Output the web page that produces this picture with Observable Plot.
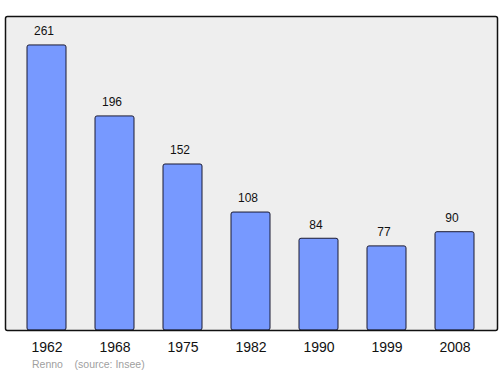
<!DOCTYPE html>
<html>
<head>
<meta charset="utf-8">
<script src="https://cdn.jsdelivr.net/npm/d3@7"></script>
<script src="https://cdn.jsdelivr.net/npm/@observablehq/plot@0.6"></script>
<style>
  body { margin: 0; background: #fff; font-family: "Liberation Sans", Arial, sans-serif; }
  #wrap { position: relative; width: 500px; height: 374px; }
  #caption { position: absolute; left: 32px; top: 358px; font-size: 10.5px; color: #a0a0a0; white-space: pre; }
</style>
</head>
<body>
<div id="wrap">
  <div id="chart"></div>
  <div id="caption">Renno    (source: Insee)</div>
</div>
<script>
const years = ["1962", "1968", "1975", "1982", "1990", "1999", "2008"];
const population = [261, 196, 152, 108, 84, 77, 90];

const data = years.map((y, i) => ({year: y, value: population[i]}));

const chart = Plot.plot({
  width: 500,
  height: 356,
  marginLeft: 5,
  marginRight: 3,
  marginTop: 16,
  marginBottom: 26,
  style: {fontFamily: "'Liberation Sans', Arial, sans-serif", background: "transparent"},
  x: {domain: years, paddingInner: 0.42, paddingOuter: 0.3, label: null},
  y: {domain: [0, 287.5], axis: null},
  marks: [
    Plot.frame({fill: "#eeeeee"}),
    Plot.barY(data, {x: "year", y: "value", fill: "#7799ff", stroke: "#1a1a33", strokeWidth: 1, rx: 2}),
    Plot.text(data, {x: "year", y: "value", text: d => String(d.value), dy: -14, dx: -3, fontSize: 12, fill: "#111"}),
    Plot.frame({stroke: "#111", strokeWidth: 1.5, rx: 2}),
    Plot.axisX({tickSize: 0, tickPadding: 12, fontSize: 14, fill: "#111", label: null})
  ]
});
document.getElementById("chart").appendChild(chart);
</script>
</body>
</html>
